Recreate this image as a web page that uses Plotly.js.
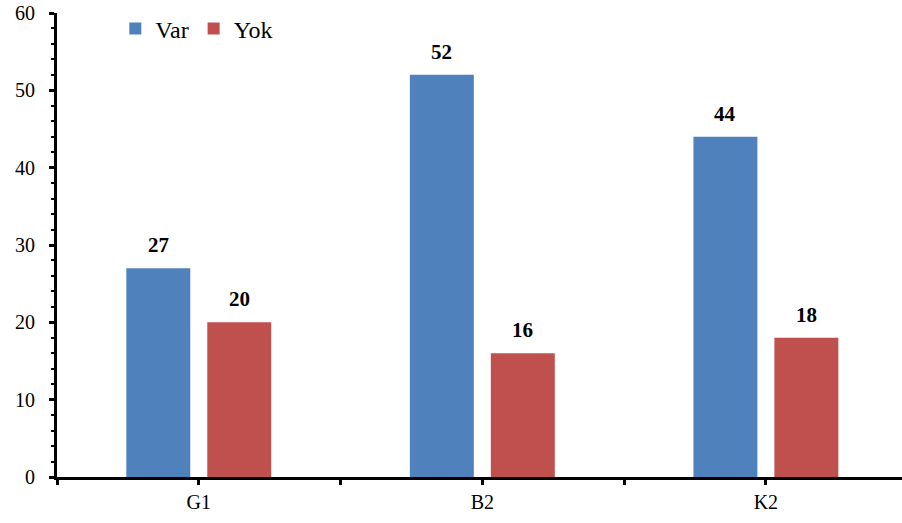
<!DOCTYPE html>
<html>
<head>
<meta charset="utf-8">
<script src="https://cdn.plot.ly/plotly-3.0.1.min.js"></script>
<style>
  html, body { margin: 0; padding: 0; background: #fff; }
  #chart { position: relative; width: 902px; height: 523px; }
  #chart text { font-family: 'Liberation Serif', 'Times New Roman', serif !important; }
</style>
</head>
<body>
<div id="chart"></div>
<script>
// Groups along the x axis and the two series drawn for each
const categories = ['G1', 'B2', 'K2'];
const varValues = [27, 52, 44];
const yokValues = [20, 16, 18];
const seriesNames = ['Var', 'Yok'];
const yTicks = [0, 10, 20, 30, 40, 50, 60];

const blue = '#4F81BD';
const red = '#C0504D';
const serif = 'Liberation Serif';

const positions = categories.map((_, i) => i);

// half of a bar slot inside a group, in category units
const barShift = 0.1428;

const traces = [
  { type: 'bar', name: seriesNames[0], x: positions, y: varValues,
    marker: { color: blue }, hoverinfo: 'skip' },
  { type: 'bar', name: seriesNames[1], x: positions, y: yokValues,
    marker: { color: red }, hoverinfo: 'skip' }
];

// value labels above each bar
const annotations = [];
[varValues, yokValues].forEach((vals, s) => {
  vals.forEach((v, i) => {
    annotations.push({
      x: positions[i] + (s === 0 ? -barShift : barShift), y: v,
      xref: 'x', yref: 'y', text: '<b>' + v + '</b>', showarrow: false,
      yanchor: 'bottom', yshift: 9,
      font: { family: serif, size: 21, color: '#000' }
    });
  });
});

// ticks at every half category, labels only on the group centres
const xTickVals = [];
const xTickText = [];
for (let i = 0; i < categories.length; i++) {
  xTickVals.push(i - 0.5, i);
  xTickText.push('', categories[i]);
}

const layout = {
  width: 902, height: 523,
  font: { family: serif, size: 20, color: '#000' },
  margin: { l: 57, r: 0, t: 13, b: 46, autoexpand: false },
  paper_bgcolor: '#fff', plot_bgcolor: '#fff',
  barmode: 'group', bargap: 0.429, bargroupgap: 0.21,
  showlegend: true,
  legend: {
    orientation: 'h', x: 0.069, y: 0.966, xanchor: 'left', yanchor: 'middle',
    font: { family: serif, size: 24, color: '#000' },
    itemwidth: 30, bgcolor: 'rgba(0,0,0,0)', tracegroupgap: 0
  },
  xaxis: {
    range: [-0.5, 2.48],
    tickmode: 'array', tickvals: xTickVals, ticktext: xTickText,
    ticks: 'outside', ticklen: 5, tickwidth: 3, tickcolor: '#000',
    showline: true, linewidth: 3, linecolor: '#000',
    showgrid: false, zeroline: false,
    tickfont: { family: serif, size: 20, color: '#000' },
    fixedrange: true
  },
  yaxis: {
    range: [0, 60],
    tickmode: 'array', tickvals: yTicks,
    ticks: 'outside', ticklen: 5, tickwidth: 3, tickcolor: '#000',
    minor: { dtick: 2, ticks: 'outside', ticklen: 3, tickwidth: 2, tickcolor: '#000', showgrid: false },
    showline: true, linewidth: 3, linecolor: '#000',
    showgrid: false, zeroline: false,
    ticklabelstandoff: 10,
    tickfont: { family: serif, size: 20, color: '#000' },
    fixedrange: true
  },
  annotations: annotations
};

const config = { displayModeBar: false, staticPlot: true };
Plotly.newPlot('chart', traces, layout, config);

// redraw once the serif faces are available so text boxes are measured with them
if (document.fonts && document.fonts.load) {
  Promise.all([
    document.fonts.load('20px "Liberation Serif"'),
    document.fonts.load('bold 20px "Liberation Serif"')
  ]).then(() => Plotly.react('chart', traces, layout, config));
}
</script>
</body>
</html>
